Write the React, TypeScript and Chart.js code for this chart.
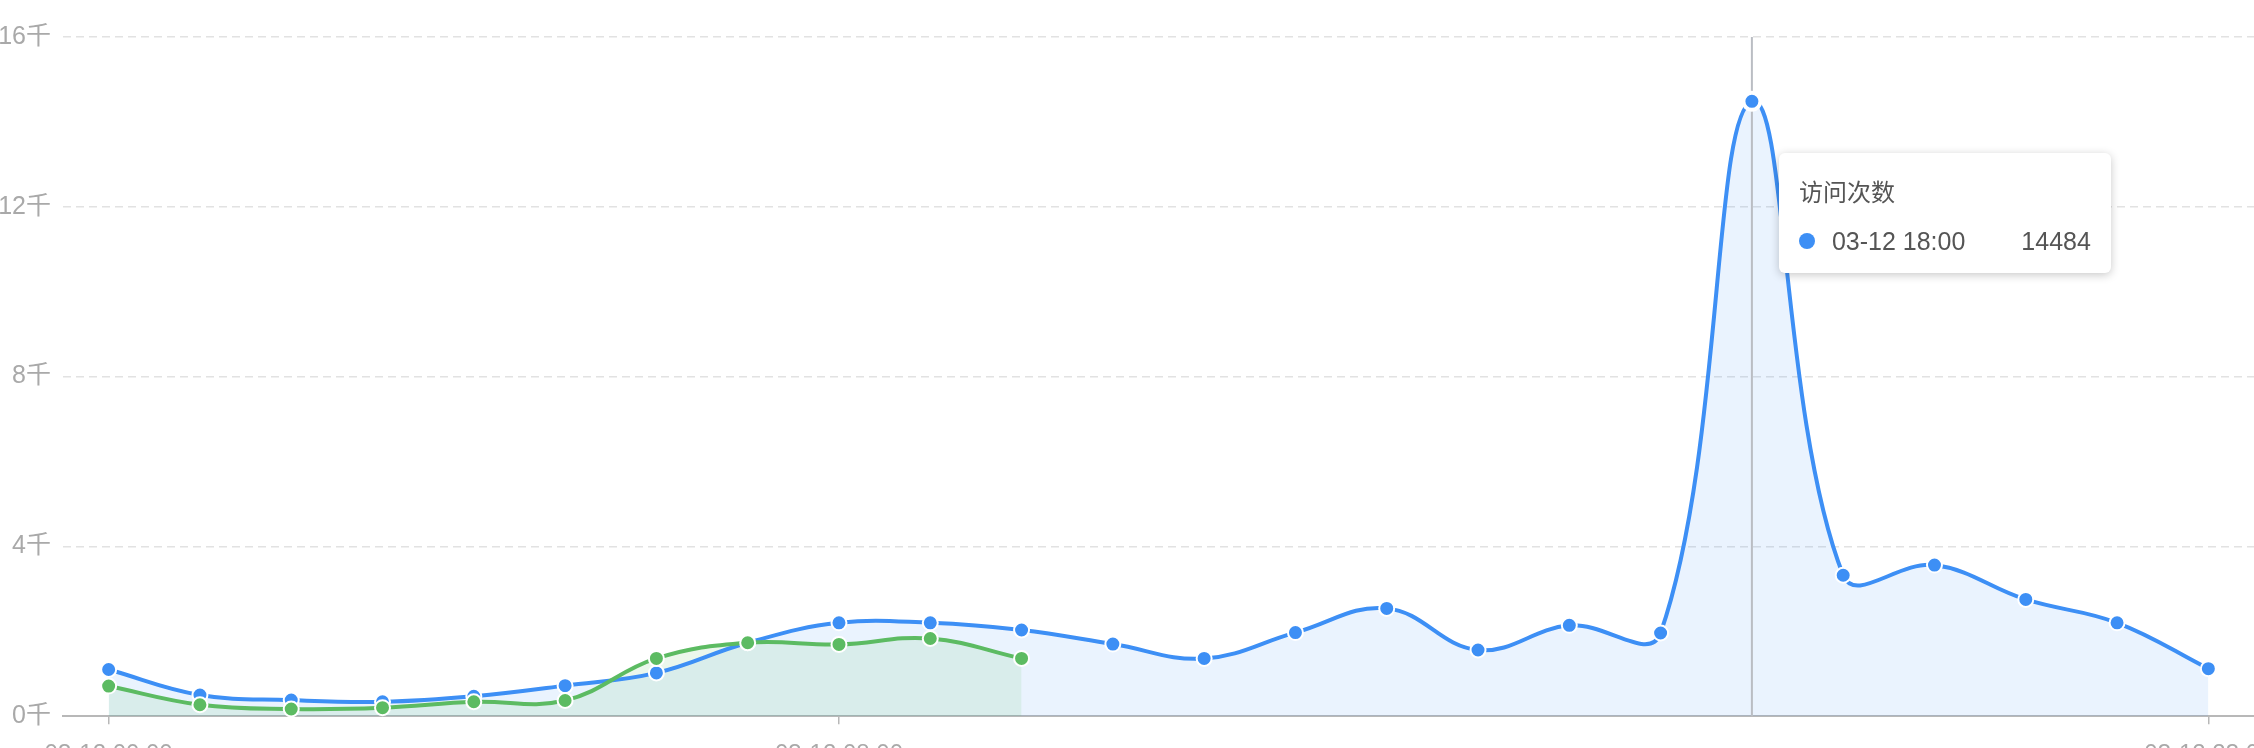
import React, { useEffect, useRef } from "react";
import { Chart, registerables } from "chart.js";

Chart.register(...registerables);

// ---------- data ----------
const categories = [
  "03-12 00:00", "03-12 01:00", "03-12 02:00", "03-12 03:00", "03-12 04:00", "03-12 05:00",
  "03-12 06:00", "03-12 07:00", "03-12 08:00", "03-12 09:00", "03-12 10:00", "03-12 11:00",
  "03-12 12:00", "03-12 13:00", "03-12 14:00", "03-12 15:00", "03-12 16:00", "03-12 17:00",
  "03-12 18:00", "03-12 19:00", "03-12 20:00", "03-12 21:00", "03-12 22:00", "03-12 23:00",
];
const visitsName = "访问次数";
const visitsValues = [
  1100, 500, 380, 340, 470, 720, 1020, 1730, 2200, 2200, 2030, 1700,
  1360, 1970, 2540, 1560, 2140, 1960, 14484, 3320, 3560, 2750, 2200, 1120,
];
const visitorsName = "访问人数";
const visitorsValues: (number | null)[] = [
  710, 270, 170, 200, 340, 370, 1360, 1730, 1690, 1830, 1360,
  null, null, null, null, null, null, null, null, null, null, null, null, null,
];
const yTickValues = [0, 4000, 8000, 12000, 16000];
const xLabelIndices = [0, 8, 23];
const highlightIndex = 18;

const BLUE = "#3d8ff5";
const GREEN = "#5cbb62";
const FONT = "'Liberation Sans', 'Noto Sans CJK SC', sans-serif";

export default function App() {
  const canvasRef = useRef<HTMLCanvasElement | null>(null);
  const tipRef = useRef<HTMLDivElement | null>(null);

  useEffect(() => {
    const canvas = canvasRef.current;
    if (!canvas) return;

    const guidePlugin = {
      id: "guide",
      beforeDatasetsDraw(chart: any) {
        const ctx = chart.ctx;
        const x = chart.scales.x.getPixelForValue(highlightIndex);
        const { top, bottom } = chart.chartArea;
        ctx.save();
        ctx.strokeStyle = "#babdc3";
        ctx.lineWidth = 2;
        ctx.beginPath();
        ctx.moveTo(x, top);
        ctx.lineTo(x, bottom);
        ctx.stroke();
        ctx.restore();
      },
      afterDraw(chart: any) {
        const tip = tipRef.current;
        if (!tip) return;
        const x = chart.scales.x.getPixelForValue(highlightIndex);
        const y = chart.scales.y.getPixelForValue(visitsValues[highlightIndex]);
        tip.style.left = `${x + 27}px`;
        tip.style.top = `${y + 52}px`;
        tip.style.display = "block";
      },
    };

    const isHi = (ctx: any) => ctx.dataIndex === highlightIndex && ctx.datasetIndex === 0;
    const pointR = (ctx: any) => (isHi(ctx) ? 8.5 : 7.5);
    const pointBW = (ctx: any) => (isHi(ctx) ? 4 : 2);

    const chart = new Chart(canvas, {
      type: "line",
      data: {
        labels: categories,
        datasets: [
          {
            label: visitsName,
            data: visitsValues,
            order: 2,
            borderColor: BLUE,
            backgroundColor: "rgba(61,143,245,0.11)",
            borderWidth: 4,
            fill: "origin",
            tension: 0.4,
            pointBackgroundColor: BLUE,
            pointBorderColor: "#ffffff",
            pointRadius: pointR,
            pointBorderWidth: pointBW,
            clip: false as any,
          },
          {
            label: visitorsName,
            data: visitorsValues,
            order: 1,
            borderColor: GREEN,
            backgroundColor: "rgba(92,187,98,0.12)",
            borderWidth: 4,
            fill: "origin",
            tension: 0.4,
            pointBackgroundColor: GREEN,
            pointBorderColor: "#ffffff",
            pointRadius: 7.5,
            pointBorderWidth: 2,
            spanGaps: false,
            clip: false as any,
          },
        ],
      },
      options: {
        responsive: false,
        animation: false,
        devicePixelRatio: 1,
        layout: { autoPadding: false, padding: { top: 37, left: 0, right: 0, bottom: 0 } } as any,
        events: [],
        plugins: {
          legend: { display: false },
          tooltip: { enabled: false },
          filler: { drawTime: "beforeDatasetsDraw" } as any,
        },
        scales: {
          x: {
            type: "category",
            offset: true,
            afterFit: (scale: any) => {
              scale.paddingLeft = 0;
              scale.paddingRight = 0;
            },
            grid: {
              offset: false,
              drawOnChartArea: false,
              drawTicks: true,
              tickLength: 8,
              lineWidth: 1.5,
              color: (ctx: any) => (xLabelIndices.includes(ctx.index) ? "#b8b8b8" : "rgba(0,0,0,0)"),
            },
            border: { display: true, color: "#b8b8b8", width: 2 },
            ticks: {
              autoSkip: false,
              maxRotation: 0,
              minRotation: 0,
              padding: 16,
              color: "#a9a9a9",
              font: { family: FONT, size: 24 },
              callback: (_v: any, i: number) => (xLabelIndices.includes(i) ? categories[i] : ""),
            },
          },
          y: {
            min: yTickValues[0],
            max: yTickValues[yTickValues.length - 1],
            afterBuildTicks: (scale: any) => {
              scale.ticks = yTickValues.map((v) => ({ value: v }));
            },
            afterFit: (scale: any) => {
              scale.width = 63;
            },
            grid: {
              drawTicks: false,
              color: "#e2e2e2",
              lineWidth: 1.5,
            },
            border: { display: false, dash: [8, 5] },
            ticks: {
              padding: 12,
              color: "#a9a9a9",
              font: { family: FONT, size: 25 },
              callback: (v: any) => `${Number(v) / 1000}千`,
            },
          },
        },
      },
      plugins: [guidePlugin],
    });

    return () => {
      chart.destroy();
    };
  }, []);

  return (
    <div
      style={{
        position: "absolute",
        left: 0,
        top: 0,
        width: 2254,
        height: 748,
        overflow: "hidden",
        background: "#ffffff",
      }}
    >
      <canvas ref={canvasRef} width={2254} height={785} style={{ display: "block" }} />
      <div
        ref={tipRef}
        style={{
          display: "none",
          position: "absolute",
          width: 332,
          height: 120,
          boxSizing: "border-box",
          padding: "24px 20px 16px 20px",
          background: "#ffffff",
          borderRadius: 6,
          boxShadow: "0 2px 10px rgba(0,0,0,0.22)",
          fontFamily: FONT,
          color: "#555555",
        }}
      >
        <div style={{ fontSize: 24, lineHeight: "32px", height: 32, whiteSpace: "nowrap" }}>{visitsName}</div>
        <div
          style={{
            marginTop: 16,
            display: "flex",
            alignItems: "center",
            fontSize: 25,
            lineHeight: "32px",
            height: 32,
            whiteSpace: "nowrap",
          }}
        >
          <span
            style={{
              display: "inline-block",
              width: 16,
              height: 16,
              borderRadius: 8,
              background: BLUE,
              marginRight: 17,
            }}
          />
          <span>{categories[highlightIndex]}</span>
          <span style={{ marginLeft: "auto" }}>{visitsValues[highlightIndex]}</span>
        </div>
      </div>
    </div>
  );
}
